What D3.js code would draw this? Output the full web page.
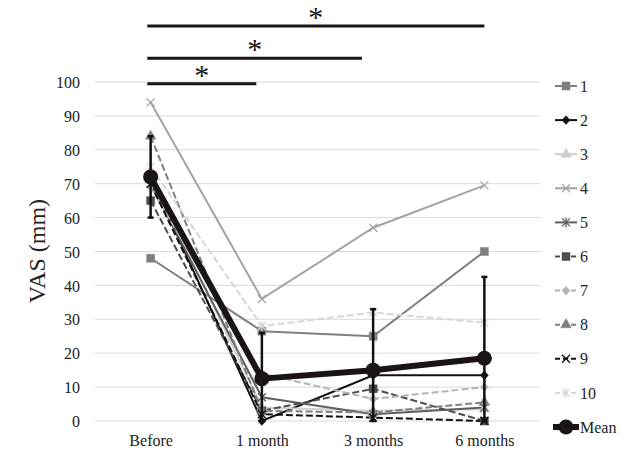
<!DOCTYPE html>
<html><head><meta charset="utf-8">
<script src="https://cdn.jsdelivr.net/npm/d3@7"></script>
<style>
html,body{margin:0;padding:0;background:#fff;}
svg{display:block;font-family:"Liberation Serif","Times New Roman",serif;}
</style></head>
<body>
<svg id="chart" width="637" height="460"></svg>
<script>
const categories = ["Before", "1 month", "3 months", "6 months"];
const seriesNames = ["1","2","3","4","5","6","7","8","9","10"];
const s1  = [48, 26.5, 25, 50];
const s2  = [72, 0, 13.5, 13.5];
const s3  = [73, 4, 3, 3.5];
const s4  = [94, 36, 57, 69.5];
const s5  = [70, 7, 2, 4];
const s6  = [65, 3, 9.5, 0];
const s7  = [69, 14, 6.5, 10];
const s8  = [84, 3, 2.5, 5.5];
const s9  = [70, 2, 1, 0];
const s10 = [75, 28, 32, 29];
const meanValues = [72, 12.5, 15, 18.5];
const meanSD = [12, 13.5, 18, 24];
const yTicks = [0,10,20,30,40,50,60,70,80,90,100];
const sigEnds = [0.95, 1.9, 3.0];      // comparison end (category index) for Before vs ...
const sigLevels = [99.5, 107, 116.5];   // bar heights in VAS units
const sigLabel = "*";

const seriesValues = [s1,s2,s3,s4,s5,s6,s7,s8,s9,s10];
const styles = [
  {color:"#7f7f7f", dash:null, sym:"square"},
  {color:"#111111", dash:null, sym:"diamond"},
  {color:"#cfcfcf", dash:null, sym:"triangle"},
  {color:"#a3a3a3", dash:null, sym:"x"},
  {color:"#5f5f5f", dash:null, sym:"star"},
  {color:"#4d4d4d", dash:"7,3", sym:"square"},
  {color:"#b3b3b3", dash:"7,3", sym:"diamond"},
  {color:"#808080", dash:"7,3", sym:"triangle"},
  {color:"#111111", dash:"7,3", sym:"x"},
  {color:"#d6d6d6", dash:"7,3", sym:"star"}
];

const svg = d3.select("#chart");
const x = d3.scalePoint().domain(categories).range([95,540]).padding(0.5);
const xi = d3.scaleLinear().domain([0,1]).range([x(categories[0]), x(categories[1])]);
const y = d3.scaleLinear().domain([0,100]).range([421,82]);

// gridlines
svg.append("g").selectAll("line").data(yTicks).join("line")
  .attr("x1",95).attr("x2",540).attr("y1",d=>y(d)).attr("y2",d=>y(d))
  .attr("stroke","#d9d9d9").attr("stroke-width",1);

// y axis labels
const yAxis = d3.axisLeft(y).tickValues(yTicks).tickSize(0).tickPadding(0);
const ga = svg.append("g").attr("transform","translate(80,0)").call(yAxis);
ga.select(".domain").remove();
ga.selectAll("text").attr("font-family","Liberation Serif").attr("font-size",16).attr("fill","#222").attr("dy","0.35em");

// x axis labels
const xAxis = d3.axisBottom(x).tickSize(0).tickPadding(0);
const gx = svg.append("g").attr("transform","translate(0,435)").call(xAxis);
gx.select(".domain").remove();
gx.selectAll("text").attr("font-family","Liberation Serif").attr("font-size",16).attr("fill","#222").attr("dy","0.71em");

// y title
svg.append("text").attr("transform","translate(45,251) rotate(-90)")
  .attr("text-anchor","middle").attr("font-size",24).attr("fill","#222").text("VAS (mm)");

function symPath(type, s){
  const h = s/2;
  switch(type){
    case "square": return d3.symbol(d3.symbolSquare, s*s)();
    case "diamond": return `M0,${-h*1.1}L${h},0L0,${h*1.1}L${-h},0Z`;
    case "triangle": return d3.symbol(d3.symbolTriangle, s*s*0.75)();
    case "x": return `M${-h},${-h}L${h},${h}M${-h},${h}L${h},${-h}`;
    case "star": return `M${-h},${-h}L${h},${h}M${-h},${h}L${h},${-h}M0,${-h*1.2}L0,${h*1.2}`;
  }
}
function drawMarker(g, st, cx, cy, s){
  const filled = st.sym!=="x" && st.sym!=="star";
  g.append("path").attr("d",symPath(st.sym,s)).attr("transform",`translate(${cx},${cy})`)
    .attr("fill",filled?st.color:"none").attr("stroke",st.color).attr("stroke-width",filled?0.5:1.3);
}

const line = d3.line().x((d,i)=>x(categories[i])).y(d=>y(d));

// series lines
const gs = svg.append("g");
seriesValues.forEach((vals,k)=>{
  const st = styles[k];
  gs.append("path").datum(vals).attr("d",line).attr("fill","none")
    .attr("stroke",st.color).attr("stroke-width",2)
    .attr("stroke-dasharray",st.dash);
});
seriesValues.forEach((vals,k)=>{
  const st = styles[k];
  vals.forEach((v,i)=>drawMarker(gs, st, x(categories[i]), y(v), 8));
});

// error bars
const ge = svg.append("g");
meanValues.forEach((m,i)=>{
  const lo = Math.max(0, m-meanSD[i]), hi = m+meanSD[i];
  const cx = x(categories[i]);
  ge.append("line").attr("x1",cx).attr("x2",cx).attr("y1",y(lo)).attr("y2",y(hi))
    .attr("stroke","#111").attr("stroke-width",2.5);
  [lo,hi].forEach(v=>ge.append("line").attr("x1",cx-3).attr("x2",cx+3).attr("y1",y(v)).attr("y2",y(v))
    .attr("stroke","#111").attr("stroke-width",2.5));
});

// mean line
svg.append("path").datum(meanValues).attr("d",line).attr("fill","none")
  .attr("stroke","#1a1414").attr("stroke-width",6).attr("stroke-linejoin","round");
svg.append("g").selectAll("circle").data(meanValues).join("circle")
  .attr("cx",(d,i)=>x(categories[i])).attr("cy",d=>y(d)).attr("r",7.5).attr("fill","#1a1414");

// significance bars
const gsig = svg.append("g");
sigEnds.forEach((e,k)=>{
  const x1 = xi(-0.03), x2 = xi(e);
  const yy = y(sigLevels[k]);
  gsig.append("line").attr("x1",x1).attr("x2",x2).attr("y1",yy).attr("y2",yy)
    .attr("stroke","#1a1414").attr("stroke-width",3);
  gsig.append("text").attr("x",(x1+x2)/2).attr("y",yy+1).attr("text-anchor","middle")
    .attr("font-size",30).attr("fill","#1a1414").text(sigLabel);
});

// legend
const legendItems = seriesNames.map((n,k)=>({name:n, st:styles[k], mean:false}))
  .concat([{name:"Mean", st:{color:"#1a1414"}, mean:true}]);
const ly = d3.scalePoint().domain(legendItems.map(d=>d.name)).range([86,427]);
const gl = svg.append("g");
legendItems.forEach(it=>{
  const yy = ly(it.name);
  if(it.mean){
    gl.append("line").attr("x1",553).attr("x2",579).attr("y1",yy).attr("y2",yy)
      .attr("stroke",it.st.color).attr("stroke-width",6);
    gl.append("circle").attr("cx",566).attr("cy",yy).attr("r",7.5).attr("fill",it.st.color);
  } else {
    gl.append("line").attr("x1",555).attr("x2",577).attr("y1",yy).attr("y2",yy)
      .attr("stroke",it.st.color).attr("stroke-width",2).attr("stroke-dasharray",it.st.dash?"5,3":null);
    drawMarker(gl, it.st, 566, yy, 8);
  }
  gl.append("text").attr("x",580).attr("y",yy).attr("dy","0.35em")
    .attr("font-size",16).attr("fill","#222").text(it.name);
});
</script>
</body></html>
